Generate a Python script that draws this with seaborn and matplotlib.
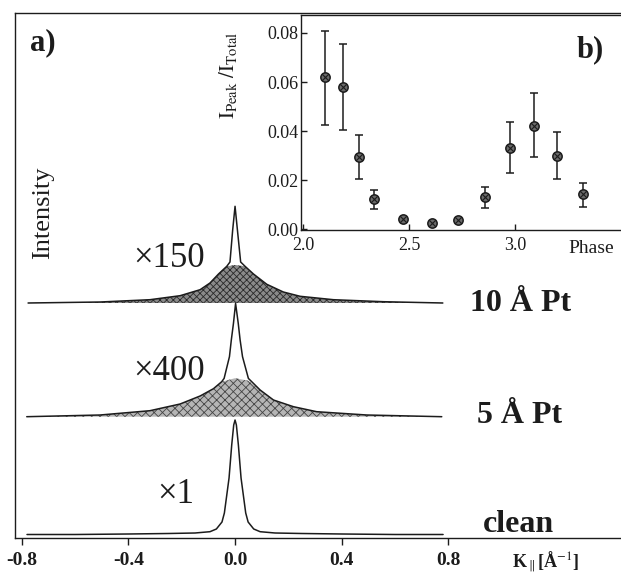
import numpy as np
import matplotlib
matplotlib.use('Agg')
import matplotlib.pyplot as plt
import seaborn as sns
import pandas as pd

# --- data ---
# spectra: K_parallel [1/A] and intensity above each baseline (arb. units)
k_clean = [-0.78, -0.60, -0.40, -0.25, -0.15, -0.094, -0.07, -0.049, -0.04, -0.031,
           -0.0225, -0.0125, -0.005, 0.0, 0.005, 0.0125, 0.0225, 0.031, 0.04, 0.049,
           0.07, 0.094, 0.15, 0.25, 0.40, 0.60, 0.78]
i_clean = [0.5, 0.5, 1, 1.5, 2, 3.3, 6, 13, 22, 40,
           57, 90, 110, 115, 110, 90, 57, 40, 22, 13,
           6, 3.3, 2, 1.5, 1, 0.5, 0.5]

k_5 = [-0.781, -0.506, -0.319, -0.206, -0.131, -0.081, -0.050, -0.041, -0.021, -0.014,
       -0.006, 0.002, 0.012, 0.019, 0.028, 0.05, 0.094, 0.144, 0.219, 0.306, 0.494, 0.775]
i_5 = [0, 1.7, 6, 12.7, 20.7, 28, 35, 38.3, 60, 76.7,
       93.3, 113.3, 93.3, 76.7, 60, 38.3, 26.7, 16.7, 10, 5, 1.7, 0]
k_5_bg = [-0.781, -0.506, -0.319, -0.206, -0.131, -0.081, -0.050, 0.0, 0.05, 0.094,
          0.144, 0.219, 0.306, 0.494, 0.775]
i_5_bg = [0, 1.7, 6, 12.7, 20.7, 28, 35, 38.5, 36, 26.7, 16.7, 10, 5, 1.7, 0]

k_10 = [-0.776, -0.506, -0.319, -0.206, -0.131, -0.094, -0.062, -0.031, -0.019, -0.009,
        0.0, 0.009, 0.021, 0.0375, 0.069, 0.119, 0.181, 0.244, 0.369, 0.556, 0.779]
i_10 = [0, 1, 3.3, 7.3, 13.3, 20, 29, 36.7, 41, 72.7,
        96.7, 72.7, 41, 36.7, 29, 18.7, 11, 6.7, 3.3, 1.3, 0]
k_10_bg = [-0.776, -0.506, -0.319, -0.206, -0.131, -0.094, -0.062, -0.031, 0.0, 0.0375,
           0.069, 0.119, 0.181, 0.244, 0.369, 0.556, 0.779]
i_10_bg = [0, 1, 3.3, 7.3, 13.3, 20, 29, 36.7, 38, 36.7, 29, 18.7, 11, 6.7, 3.3, 1.3, 0]

# inset: peak fraction vs phase
phase = [2.104, 2.187, 2.265, 2.335, 2.47, 2.61, 2.73, 2.86, 2.975, 3.09, 3.20, 3.32]
ratio = [0.062, 0.058, 0.0294, 0.0122, 0.0041, 0.0024, 0.0038, 0.0133, 0.0332, 0.042, 0.030, 0.0142]
ratio_lo = [0.0426, 0.0403, 0.0203, 0.0081, 0.0041, 0.0024, 0.0038, 0.0088, 0.023, 0.0295, 0.0206, 0.0092]
ratio_hi = [0.0806, 0.0755, 0.0386, 0.016, 0.0041, 0.0024, 0.0038, 0.0173, 0.0436, 0.0555, 0.0395, 0.0187]

# baselines of the stacked spectra
off_clean, off_5, off_10 = 2.7, 121, 234.7

sns.set_style('ticks')
plt.rcParams['font.family'] = ['Liberation Serif', 'DejaVu Serif']
plt.rcParams['mathtext.fontset'] = 'stix'
plt.rcParams['axes.unicode_minus'] = False
plt.rcParams['hatch.linewidth'] = 0.6

ink = '#1c1c1c'
fig = plt.figure(figsize=(6.21, 5.76), dpi=100)
ax = fig.add_axes([15 / 621, 38.3 / 576, 1 - 15 / 621, 524.7 / 576])

# shaded broad components
ax.fill_between(k_10_bg, off_10, np.array(i_10_bg) + off_10, facecolor='#8a8a8a',
                edgecolor='#2a2a2a', hatch='xxxxx', linewidth=0)
ax.fill_between(k_5_bg, off_5, np.array(i_5_bg) + off_5, facecolor='#b5b5b5',
                edgecolor='#444444', hatch='xxxx', linewidth=0)

spectra = pd.concat([
    pd.DataFrame({'k': k_clean, 'I': np.array(i_clean) + off_clean, 'film': 'clean'}),
    pd.DataFrame({'k': k_5, 'I': np.array(i_5) + off_5, 'film': '5'}),
    pd.DataFrame({'k': k_10, 'I': np.array(i_10) + off_10, 'film': '10'}),
])
sns.lineplot(data=spectra, x='k', y='I', units='film', estimator=None, sort=False,
             color=ink, lw=1.1, ax=ax, legend=False)

ax.set_xlim(-0.825, 1.447)
ax.set_ylim(0, 524.7)
ax.set_yticks([])
ax.set_xticks([-0.8, -0.4, 0.0, 0.4, 0.8])
ax.set_xticklabels(['-0.8', '-0.4', '0.0', '0.4', '0.8'], fontweight='bold', fontsize=14)
ax.tick_params(axis='x', direction='out', length=5, width=1, pad=5, colors=ink)
ax.set_xlabel('')
ax.set_ylabel('')
ax.spines['right'].set_visible(False)
for s in ['left', 'top', 'bottom']:
    ax.spines[s].set_color(ink)
    ax.spines[s].set_linewidth(1.0)

ax.text(-0.769, 487.7, 'a)', fontsize=22, fontweight='bold', color=ink, va='baseline')
ax.text(-0.718, 325, 'Intensity', fontsize=19, rotation=90, ha='center', va='center', color=ink)
ax.text(-0.382, 270.7, '×150', fontsize=25, color=ink, va='baseline')
ax.text(-0.382, 157.7, '×400', fontsize=25, color=ink, va='baseline')
ax.text(-0.292, 34.7, '×1', fontsize=25, color=ink, va='baseline')
ax.text(1.069, 227, '10 Å Pt', fontsize=23, fontweight='bold', ha='center', va='baseline', color=ink)
ax.text(1.065, 114.4, '5 Å Pt', fontsize=23, fontweight='bold', ha='center', va='baseline', color=ink)
ax.text(1.063, 6, 'clean', fontsize=23, fontweight='bold', ha='center', va='baseline', color=ink)
ax.text(1.163, -0.047, r'K$_{\parallel}$[Å$^{-1}$]', transform=ax.get_xaxis_transform(),
        fontsize=13, fontweight='bold', ha='center', va='center', color=ink)

# inset b)
axi = fig.add_axes([301 / 621, 346 / 576, 1 - 301 / 621, 215 / 576])
axi.set_facecolor('white')
yerr = [np.array(ratio) - np.array(ratio_lo), np.array(ratio_hi) - np.array(ratio)]
axi.errorbar(phase, ratio, yerr=yerr, fmt='none', ecolor=ink, elinewidth=1.1,
             capsize=3, capthick=1.1)
sns.scatterplot(x=phase, y=ratio, ax=axi, s=45, color='#6a6a6a', edgecolor=ink,
                linewidth=1.1, zorder=3)
sns.scatterplot(x=phase, y=ratio, ax=axi, s=22, marker='x', color=ink,
                linewidth=0.8, zorder=4)
axi.set_xlim(1.99, 3.5)
axi.set_ylim(-0.0003, 0.0873)
axi.set_xticks([2.0, 2.5, 3.0])
axi.set_xticklabels(['2.0', '2.5', '3.0'], fontsize=13)
axi.set_yticks([0.0, 0.02, 0.04, 0.06, 0.08])
axi.set_yticklabels(['0.00', '0.02', '0.04', '0.06', '0.08'], fontsize=13)
axi.tick_params(direction='in', length=4, width=1, colors=ink)
axi.tick_params(axis='y', pad=2)
axi.tick_params(axis='x', pad=5)
axi.spines['right'].set_visible(False)
for s in ['left', 'top', 'bottom']:
    axi.spines[s].set_color(ink)
    axi.spines[s].set_linewidth(1.0)
axi.set_ylabel(r'$\mathrm{I_{Peak}\ /I_{Total}}$', fontsize=15, color=ink, labelpad=2)
axi.yaxis.set_label_coords(-0.195, 0.72)
axi.text(3.36, -0.045, 'Phase', transform=axi.get_xaxis_transform(), fontsize=14,
         ha='center', va='top', color=ink)
axi.text(3.29, 0.0703, 'b)', fontsize=22, fontweight='bold', color=ink, va='baseline')

fig.savefig('out.png', dpi=100)
